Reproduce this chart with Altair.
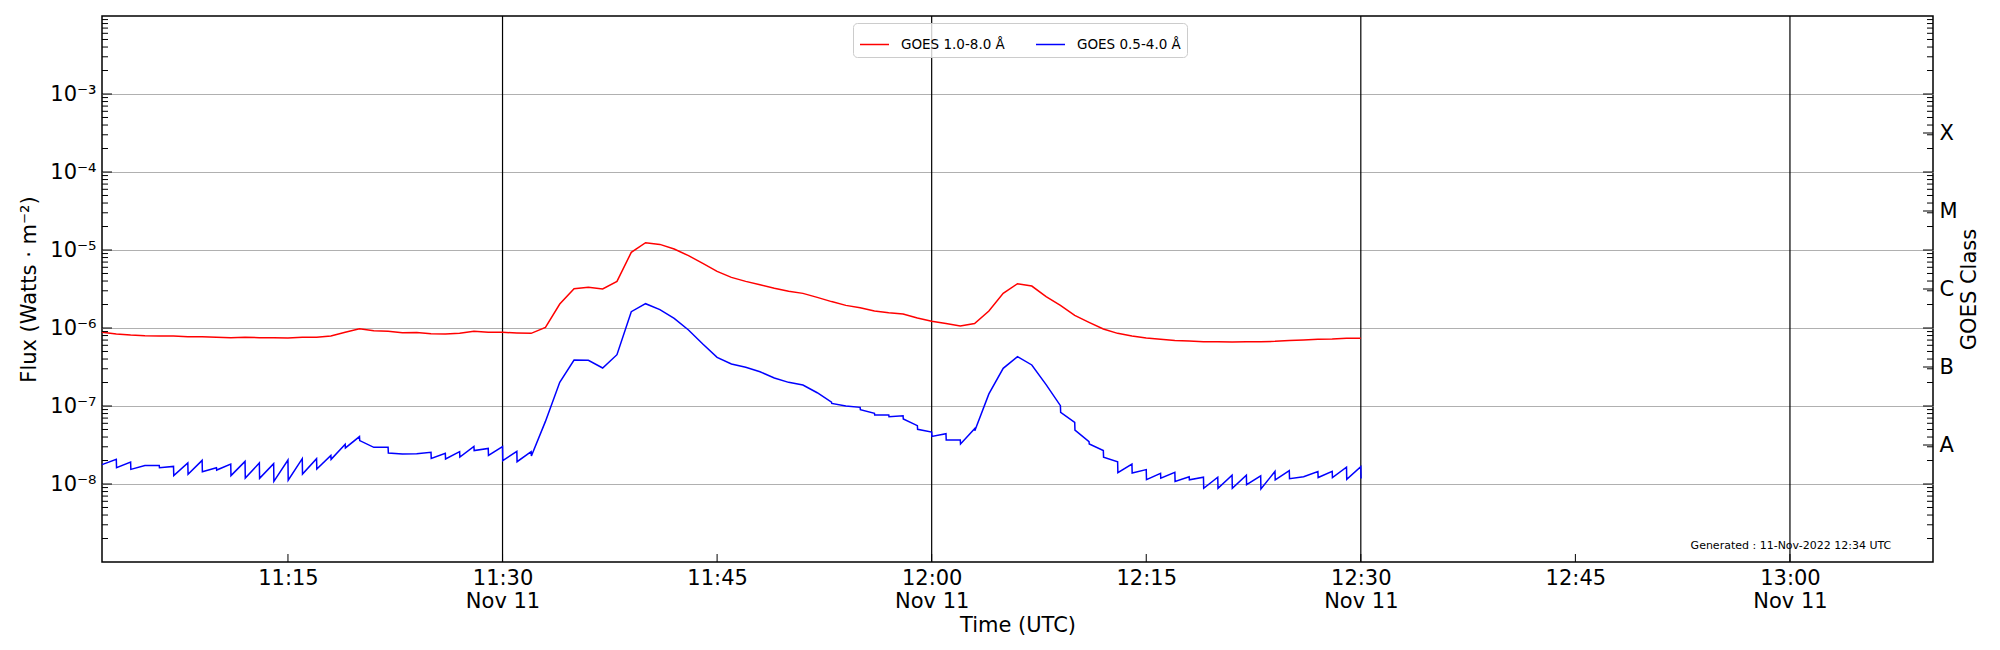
import altair as alt
import pandas as pd

# ---------------- data ----------------
LONG = "GOES 1.0-8.0 Å"
SHORT = "GOES 0.5-4.0 Å"

# minutes after 11:00 UTC, 11-Nov-2022
minutes = list(range(2, 91))

# 1.0-8.0 A flux (W m^-2)
red_flux = [
    8.80e-7, 8.38e-7, 8.13e-7, 7.97e-7, 7.89e-7, 7.89e-7, 7.74e-7, 7.74e-7, 7.59e-7, 7.51e-7,
    7.59e-7, 7.51e-7, 7.51e-7, 7.44e-7, 7.59e-7, 7.59e-7, 7.89e-7, 8.80e-7, 9.80e-7, 9.25e-7,
    9.06e-7, 8.71e-7, 8.75e-7, 8.46e-7, 8.38e-7, 8.54e-7, 9.06e-7, 8.80e-7, 8.80e-7, 8.63e-7,
    8.54e-7, 1.02e-6, 2.03e-6, 3.19e-6, 3.32e-6, 3.16e-6, 3.96e-6, 9.33e-6, 1.24e-5, 1.18e-5,
    1.03e-5, 8.46e-6, 6.74e-6, 5.32e-6, 4.46e-6, 3.96e-6, 3.59e-6, 3.23e-6, 2.95e-6, 2.78e-6,
    2.47e-6, 2.18e-6, 1.95e-6, 1.82e-6, 1.65e-6, 1.57e-6, 1.51e-6, 1.34e-6, 1.22e-6, 1.14e-6,
    1.06e-6, 1.14e-6, 1.65e-6, 2.78e-6, 3.70e-6, 3.45e-6, 2.52e-6, 1.95e-6, 1.45e-6, 1.18e-6,
    9.71e-7, 8.54e-7, 7.89e-7, 7.44e-7, 7.16e-7, 6.89e-7, 6.81e-7, 6.68e-7, 6.68e-7, 6.62e-7,
    6.68e-7, 6.68e-7, 6.75e-7, 6.89e-7, 7.02e-7, 7.16e-7, 7.23e-7, 7.38e-7, 7.38e-7,
]

# 0.5-4.0 A flux (W m^-2): value reached at the minute, then value just after it
blue_hi = [
    1.77e-8, 2.07e-8, 1.91e-8, 1.73e-8, 1.73e-8, 1.68e-8, 1.86e-8, 2.01e-8, 1.62e-8, 1.80e-8,
    1.95e-8, 1.86e-8, 1.82e-8, 2.03e-8, 2.11e-8, 2.11e-8, 2.33e-8, 3.23e-8, 4.05e-8, 2.95e-8,
    2.95e-8, 2.43e-8, 2.44e-8, 2.55e-8, 2.47e-8, 2.60e-8, 3.04e-8, 2.86e-8, 3.01e-8, 2.62e-8,
    2.60e-8, 6.35e-8, 2.01e-7, 3.89e-7, 3.85e-7, 3.07e-7, 4.55e-7, 1.62e-6, 2.05e-6, 1.72e-6,
    1.33e-6, 9.42e-7, 6.24e-7, 4.21e-7, 3.45e-7, 3.13e-7, 2.75e-7, 2.29e-7, 2.01e-7, 1.86e-7,
    1.48e-7, 1.12e-7, 1.00e-7, 9.61e-8, 8.05e-8, 7.67e-8, 7.51e-8, 5.60e-8, 4.64e-8, 4.42e-8,
    3.67e-8, 5.12e-8, 1.43e-7, 3.04e-7, 4.29e-7, 3.36e-7, 1.88e-7, 1.01e-7, 6.18e-8, 3.49e-8,
    2.68e-8, 1.93e-8, 1.80e-8, 1.53e-8, 1.37e-8, 1.41e-8, 1.24e-8, 1.22e-8, 1.22e-8, 1.30e-8,
    1.30e-8, 1.27e-8, 1.45e-8, 1.48e-8, 1.24e-8, 1.44e-8, 1.45e-8, 1.64e-8, 1.67e-8,
]
blue_lo = [
    1.77e-8, 1.62e-8, 1.54e-8, 1.73e-8, 1.62e-8, 1.28e-8, 1.33e-8, 1.44e-8, 1.51e-8, 1.28e-8,
    1.19e-8, 1.18e-8, 1.08e-8, 1.12e-8, 1.34e-8, 1.56e-8, 2.07e-8, 2.90e-8, 3.60e-8, 2.95e-8,
    2.49e-8, 2.43e-8, 2.44e-8, 2.13e-8, 2.09e-8, 2.22e-8, 2.68e-8, 2.33e-8, 1.99e-8, 1.93e-8,
    2.29e-8, 6.35e-8, 2.01e-7, 3.89e-7, 3.85e-7, 3.07e-7, 4.55e-7, 1.62e-6, 2.05e-6, 1.72e-6,
    1.33e-6, 9.42e-7, 6.24e-7, 4.21e-7, 3.45e-7, 3.13e-7, 2.75e-7, 2.29e-7, 2.01e-7, 1.86e-7,
    1.48e-7, 1.08e-7, 1.00e-7, 8.97e-8, 7.67e-8, 7.30e-8, 6.81e-8, 5.02e-8, 4.08e-8, 3.67e-8,
    3.26e-8, 4.83e-8, 1.43e-7, 3.04e-7, 4.29e-7, 3.36e-7, 1.88e-7, 8.30e-8, 4.92e-8, 3.26e-8,
    2.20e-8, 1.40e-8, 1.38e-8, 1.14e-8, 1.19e-8, 1.08e-8, 1.13e-8, 8.80e-9, 8.80e-9, 8.80e-9,
    9.80e-9, 8.63e-9, 1.13e-8, 1.17e-8, 1.24e-8, 1.21e-8, 1.21e-8, 1.15e-8, 1.18e-8,
]

# axes
x_start, x_end = "11:02", "13:10"
x_tick_times = ["11:15", "11:30", "11:45", "12:00", "12:15", "12:30", "12:45", "13:00"]
x_line_times = ["11:30", "12:00", "12:30", "13:00"]
date_label = "Nov 11"
y_decades = [1e-8, 1e-7, 1e-6, 1e-5, 1e-4, 1e-3]
y_decade_labels = ["10⁻⁸", "10⁻⁷", "10⁻⁶", "10⁻⁵", "10⁻⁴", "10⁻³"]
class_labels = ["A", "B", "C", "M", "X"]
class_centers = [10 ** -7.5, 10 ** -6.5, 10 ** -5.5, 10 ** -4.5, 10 ** -3.5]
all_decades = [1e-9, 1e-8, 1e-7, 1e-6, 1e-5, 1e-4, 1e-3, 1e-2]
minor_ticks = [k * d for d in all_decades[:-1] for k in range(2, 10)]

note_text = "Generated : 11-Nov-2022 12:34 UTC"
note_time = "13:07:05"
note_flux = 1.6e-9

W, H = 1831, 546


def iso(hhmm, sec=0):
    parts = hhmm.split(":")
    s = int(parts[2]) if len(parts) > 2 else sec
    return f"2022-11-11T{int(parts[0]):02d}:{int(parts[1]):02d}:{s:02d}Z"


def iso_min(m, sec=0):
    return iso(f"{11 + m // 60}:{m % 60}", sec)


def ms(hhmm):
    return int(pd.Timestamp(iso(hhmm)).value // 10**6)


rows = []
for m, v in zip(minutes, red_flux):
    rows.append({"t": iso_min(m), "flux": v, "series": LONG})
for m, hi, lo in zip(minutes, blue_hi, blue_lo):
    rows.append({"t": iso_min(m), "flux": hi, "series": SHORT})
    if lo != hi:
        rows.append({"t": iso_min(m, 1), "flux": lo, "series": SHORT})
series_df = pd.DataFrame(rows)

FONT = "DejaVu Sans"

x_scale = alt.Scale(domain=[ms(x_start), ms(x_end)])
y_scale = alt.Scale(type="log", domain=[1e-9, 1e-2], nice=False)

y_label_expr = (
    "[" + ",".join(f"'{s}'" for s in y_decade_labels) + "]"
    "[round(log(datum.value) / LN10) + 8]"
)
class_label_expr = (
    "[" + ",".join(f"'{s}'" for s in class_labels) + "]"
    "[round(log(datum.value) / LN10 + 7.5)]"
)

# vertical black lines
vlines = alt.Chart(pd.DataFrame({"t": [iso(s) for s in x_line_times]})).mark_rule(
    color="black", strokeWidth=1.2
).encode(x=alt.X("t:T", scale=x_scale, axis=None))

lines = alt.Chart(series_df).mark_line(strokeWidth=1.5, interpolate="linear").encode(
    x=alt.X(
        "t:T",
        scale=x_scale,
        axis=alt.Axis(
            orient="bottom",
            title=None,
            values=[ms(s) for s in x_tick_times],
            labelExpr="utcFormat(datum.value, '%H:%M')",
            ticks=False,
            grid=False,
            labelPadding=5,
            labelFlush=False,
        ),
    ),
    y=alt.Y(
        "flux:Q",
        scale=y_scale,
        axis=alt.Axis(
            orient="left",
            title="Flux (Watts · m⁻²)",
            values=y_decades,
            labelExpr=y_label_expr,
            ticks=False,
            grid=True,
            labelPadding=6,
            titlePadding=10,
        ),
    ),
    color=alt.Color(
        "series:N",
        scale=alt.Scale(domain=[LONG, SHORT], range=["#ff0000", "#0000ff"]),
        legend=alt.Legend(
            title=None,
            orient="none",
            legendX=751,
            legendY=7,
            direction="horizontal",
            columns=2,
            symbolType="stroke",
            symbolSize=841,
            symbolStrokeWidth=1.5,
            labelFontSize=13.5,
            labelFont=FONT,
            labelColor="black",
            labelOffset=11,
            columnPadding=28,
            padding=6,
            fillColor="rgba(255,255,255,0.8)",
            strokeColor="#cccccc",
            cornerRadius=4,
        ),
    ),
    detail="series:N",
)

# inward ticks
left_major = alt.Chart(pd.DataFrame({"v": y_decades})).mark_rule(color="black").encode(
    y=alt.Y("v:Q", scale=y_scale, axis=None), x=alt.value(0), x2=alt.value(10)
)
left_minor = alt.Chart(pd.DataFrame({"v": minor_ticks})).mark_rule(color="black").encode(
    y=alt.Y("v:Q", scale=y_scale, axis=None), x=alt.value(0), x2=alt.value(6)
)
right_major = alt.Chart(pd.DataFrame({"v": class_centers + y_decades})).mark_rule(
    color="black"
).encode(
    y=alt.Y(
        "v:Q",
        scale=y_scale,
        axis=alt.Axis(
            orient="right",
            title="GOES Class",
            titleAngle=270,
            values=class_centers,
            labelExpr=class_label_expr,
            ticks=False,
            grid=False,
            labelPadding=6,
            titlePadding=22,
        ),
    ),
    x=alt.value(W - 10),
    x2=alt.value(W),
)
right_minor = alt.Chart(pd.DataFrame({"v": minor_ticks})).mark_rule(color="black").encode(
    y=alt.Y("v:Q", scale=y_scale, axis=None), x=alt.value(W - 6), x2=alt.value(W)
)
# bottom inward ticks; this layer also carries the date row and the x title
bottom_ticks = alt.Chart(pd.DataFrame({"t": [iso(s) for s in x_tick_times]})).mark_rule(
    color="black"
).encode(
    x=alt.X(
        "t:T",
        scale=x_scale,
        axis=alt.Axis(
            orient="bottom",
            title="Time (UTC)",
            values=[ms(s) for s in x_line_times],
            labelExpr=f"'{date_label}'",
            ticks=False,
            grid=False,
            labelPadding=28,
            titlePadding=3,
            labelFlush=False,
        ),
    ),
    y=alt.value(H - 8),
    y2=alt.value(H),
)

note = alt.Chart(
    pd.DataFrame({"t": [iso(note_time)], "flux": [note_flux], "label": [note_text]})
).mark_text(align="right", baseline="middle", fontSize=11, font=FONT, color="black").encode(
    x=alt.X("t:T", scale=x_scale, axis=None),
    y=alt.Y("flux:Q", scale=y_scale, axis=None),
    text="label:N",
)

chart = (
    alt.layer(vlines, lines, left_major, left_minor, right_major, right_minor, bottom_ticks, note)
    .resolve_axis(x="independent", y="independent")
    .properties(width=W, height=H, padding={"left": 10, "top": 7, "right": 5, "bottom": 5},
                background="white")
    .configure_view(stroke="black", strokeWidth=1.5)
    .configure_axis(
        domain=False,
        labelFont=FONT,
        titleFont=FONT,
        labelFontSize=21,
        titleFontSize=21,
        titleFontWeight="normal",
        labelColor="black",
        titleColor="black",
        gridColor="#b0b0b0",
        gridWidth=1,
    )
)

chart.save("out.html", embed_options={"renderer": "svg", "actions": False})
